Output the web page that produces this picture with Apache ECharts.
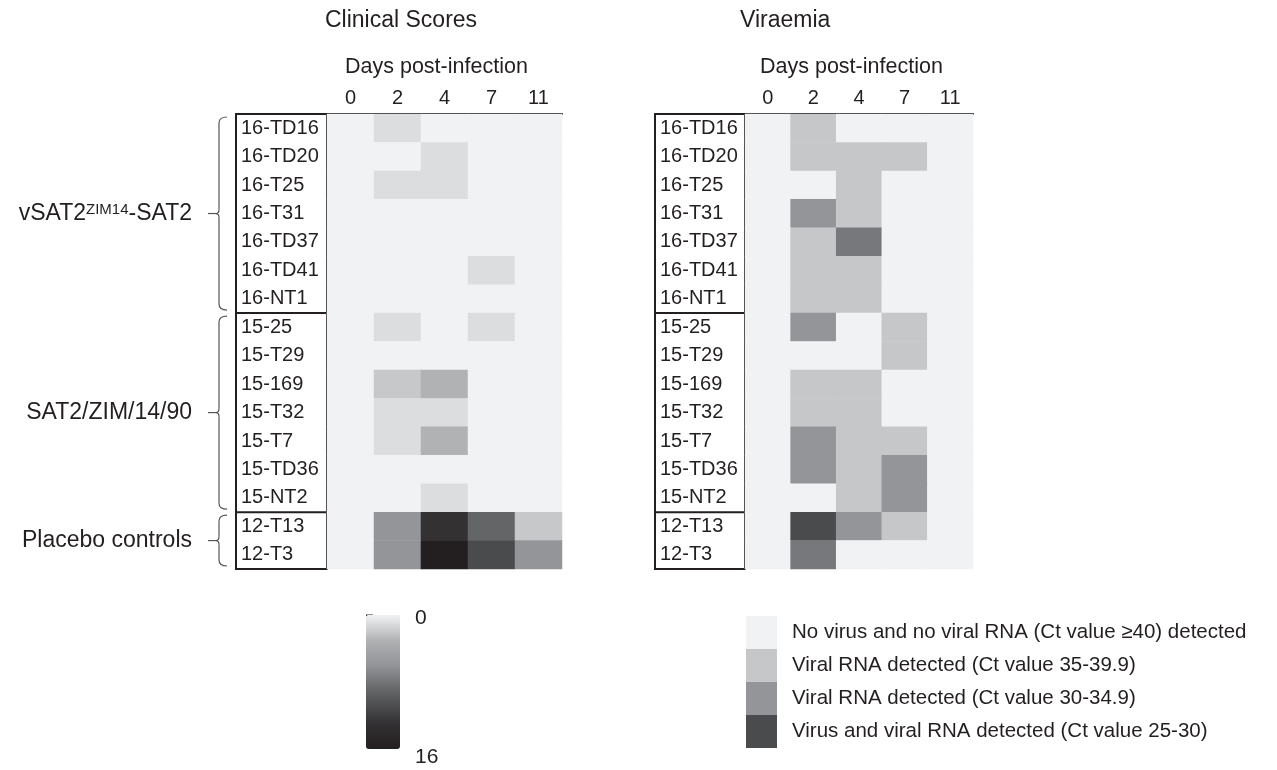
<!DOCTYPE html>
<html><head><meta charset="utf-8">
<script src="https://cdn.jsdelivr.net/npm/echarts@6/dist/echarts.min.js"></script>
<style>html,body{margin:0;padding:0;background:#fff}#c{width:1277px;height:770px}</style>
</head><body><div id="c"></div>
<script>
// ---------- data ----------
const days = ['0', '2', '4', '7', '11'];
const animals = ['16-TD16','16-TD20','16-T25','16-T31','16-TD37','16-TD41','16-NT1',
                 '15-25','15-T29','15-169','15-T32','15-T7','15-TD36','15-NT2',
                 '12-T13','12-T3'];
const groupNames = ['vSAT2|ZIM14|-SAT2', 'SAT2/ZIM/14/90', 'Placebo controls'];
const groupSizes = [7, 7, 2];
// clinical score per animal, days 0,2,4,7,11 (scale 0-16)
const clinicalScores = [
  [0,1,0,0,0],[0,0,1,0,0],[0,1,1,0,0],[0,0,0,0,0],[0,0,0,0,0],[0,0,0,1,0],[0,0,0,0,0],
  [0,1,0,1,0],[0,0,0,0,0],[0,2,3,0,0],[0,1,1,0,0],[0,1,3,0,0],[0,0,0,0,0],[0,0,1,0,0],
  [0,6,13,9,2],[0,6,16,11,6]
];
// viraemia level: 0 none, 1 Ct 35-39.9, 2 Ct 30-34.9, 2.5 intermediate, 3 virus (Ct 25-30)
const viraemia = [
  [0,1,0,0,0],[0,1,1,1,0],[0,0,1,0,0],[0,2,1,0,0],[0,1,2.5,0,0],[0,1,1,0,0],[0,1,1,0,0],
  [0,2,0,1,0],[0,0,0,1,0],[0,1,1,0,0],[0,1,1,0,0],[0,2,1,1,0],[0,2,1,2,0],[0,0,1,2,0],
  [0,3,2,1,0],[0,2.5,0,0,0]
];
const viraemiaLegend = [
  'No virus and no viral RNA (Ct value \u226540) detected',
  'Viral RNA detected (Ct value 35-39.9)',
  'Viral RNA detected (Ct value 30-34.9)',
  'Virus and viral RNA detected (Ct value 25-30)'
];
const legendLevels = [0, 1, 2, 3];
const scaleTicks = ['0', '16'];

// ---------- styles ----------
const INK = '#231f20';
const FONT = '"Liberation Sans", Arial, sans-serif';
const scoreColors = ['#f1f2f4','#dcdddf','#c7c8ca','#b1b2b4','#a6a7a9','#9c9da0','#939598','#838487',
  '#737476','#646567','#575859','#4a4b4d','#3e3d3f','#333132','#2d2a2b','#282425','#231f20'];
const viraColors = {0:'#f1f2f4', 1:'#c6c7c9', 2:'#939598', 2.5:'#77787b', 3:'#4a4b4d'};

function toCells(m) {
  const out = [];
  m.forEach((row, r) => row.forEach((v, c) => out.push([c, r, v])));
  return out;
}

const chart = echarts.init(document.getElementById('c'), null, {renderer: 'canvas'});

const grids = [
  {left: 327, top: 114, width: 235, height: 455},
  {left: 745, top: 114, width: 228, height: 455}
];
function xAx(i) {
  return {type: 'category', data: days, gridIndex: i, position: 'top',
    axisLine: {show: true, lineStyle: {color: INK, width: 2}},
    axisTick: {show: false}, splitLine: {show: false},
    axisLabel: {fontSize: 20, color: INK, fontFamily: FONT, margin: 6}};
}
function yAx(i, margin) {
  return {type: 'category', data: animals, gridIndex: i, inverse: true,
    axisLine: {show: true, lineStyle: {color: INK, width: 2}},
    axisTick: {show: false}, splitLine: {show: false},
    axisLabel: {fontSize: 20, color: INK, fontFamily: FONT, margin: margin, align: 'left'}};
}

const option = {
  backgroundColor: '#fff',
  animation: false,
  textStyle: {fontFamily: FONT, color: INK},
  grid: grids,
  xAxis: [xAx(0), xAx(1)],
  yAxis: [yAx(0, 86), yAx(1, 85)],
  visualMap: [
    {type: 'continuous', seriesIndex: 0, min: 0, max: 16, inverse: true, calculable: false,
     orient: 'vertical', left: 366, top: 615, itemWidth: 34, itemHeight: 134, padding: 0,
     inRange: {color: scoreColors}, hoverLink: false},
    {type: 'piecewise', seriesIndex: 1, show: false,
     pieces: [0, 1, 2, 2.5, 3].map(v => ({value: v, color: viraColors[v]}))},
    {type: 'piecewise', seriesIndex: 2, show: true, orient: 'vertical', selectedMode: false,
     inverse: true, align: 'left',
     left: 746, top: 616, itemWidth: 31, itemHeight: 33, itemGap: 0, textGap: 15, padding: 0,
     itemSymbol: 'rect', hoverLink: false,
     textStyle: {fontSize: 20.5, color: INK, fontFamily: FONT},
     pieces: legendLevels.map((v, i) => ({value: v, label: viraemiaLegend[i], color: viraColors[v]}))}
  ],
  series: [
    {type: 'heatmap', xAxisIndex: 0, yAxisIndex: 0, data: toCells(clinicalScores),
     itemStyle: {borderWidth: 0}, emphasis: {disabled: true}},
    {type: 'heatmap', xAxisIndex: 1, yAxisIndex: 1, data: toCells(viraemia),
     itemStyle: {borderWidth: 0}, emphasis: {disabled: true}},
    {type: 'heatmap', xAxisIndex: 1, yAxisIndex: 1, data: []}
  ]
};
chart.setOption(option);

// ---------- annotations ----------
function rowEdges(axisIdx) {
  const c = animals.map(a => chart.convertToPixel({yAxisIndex: axisIdx}, a));
  const band = c[1] - c[0];
  const edges = c.map(y => y - band / 2);
  edges.push(c[c.length - 1] + band / 2);
  return edges;
}
const g = [];
const lineStyle = {stroke: INK, lineWidth: 2};
function ln(x1, y1, x2, y2, style) {
  g.push({type: 'line', shape: {x1, y1, x2, y2}, style: style || lineStyle, silent: true});
}
function boxLines(axisIdx, boxLeft, gridLeft) {
  const e = rowEdges(axisIdx);
  const top = e[0], bot = e[e.length - 1];
  ln(boxLeft, top, gridLeft, top);
  ln(boxLeft, bot, gridLeft, bot);
  ln(boxLeft, top - 1, boxLeft, bot + 1);
  let k = 0;
  groupSizes.slice(0, -1).forEach(s => { k += s; ln(boxLeft, e[k], gridLeft, e[k]); });
  return e;
}
const e0 = boxLines(0, 236, 327);
boxLines(1, 655, 745);

// braces + group labels
const braceStyle = {stroke: '#555', lineWidth: 1.2, fill: null};
function curve(x1, y1, cx, cy, x2, y2) {
  g.push({type: 'bezierCurve', shape: {x1, y1, cpx1: cx, cpy1: cy, x2, y2}, style: braceStyle, silent: true});
}
let k = 0;
groupSizes.forEach((s, gi) => {
  const yT = e0[k] + 3, yB = e0[k + s] - 3, ym = (e0[k] + e0[k + s]) / 2;
  k += s;
  const bx = 219;
  curve(227, yT, bx, yT, bx, yT + 6);
  ln(bx, yT + 6, bx, ym - 4, braceStyle);
  curve(bx, ym - 4, bx, ym, bx - 3, ym);
  curve(bx - 3, ym, bx, ym, bx, ym + 4);
  ln(bx - 3, ym, 208, ym, braceStyle);
  ln(bx, ym + 4, bx, yB - 6, braceStyle);
  curve(bx, yB - 6, bx, yB, 227, yB);
  const parts = groupNames[gi].split('|');
  const rich = {a: {fontSize: 23, fontFamily: FONT, fill: INK},
                s: {fontSize: 15, fontFamily: FONT, fill: INK, verticalAlign: 'top'}};
  const t = parts.length === 3 ? `{a|${parts[0]}}{s|${parts[1]}}{a|${parts[2]}}` : `{a|${parts[0]}}`;
  g.push({type: 'text', x: 192, y: ym, style: {text: t, rich: rich, align: 'right', verticalAlign: 'middle'}, silent: true});
});

// titles
function txt(x, y, t, size, align) {
  g.push({type: 'text', x: x, y: y, style: {text: t, fontSize: size, fontFamily: FONT, fill: INK,
    align: align || 'left', verticalAlign: 'middle'}, silent: true});
}
txt(325, 20.5, 'Clinical Scores', 23);
txt(740, 20.5, 'Viraemia', 23);
txt(345, 67, 'Days post-infection', 21.5);
txt(760, 67, 'Days post-infection', 21.5);
txt(415, 618, scaleTicks[0], 21);
txt(415, 757, scaleTicks[1], 21);
ln(366, 615.5, 373, 615.5);

chart.setOption({graphic: g});
</script>
</body></html>
